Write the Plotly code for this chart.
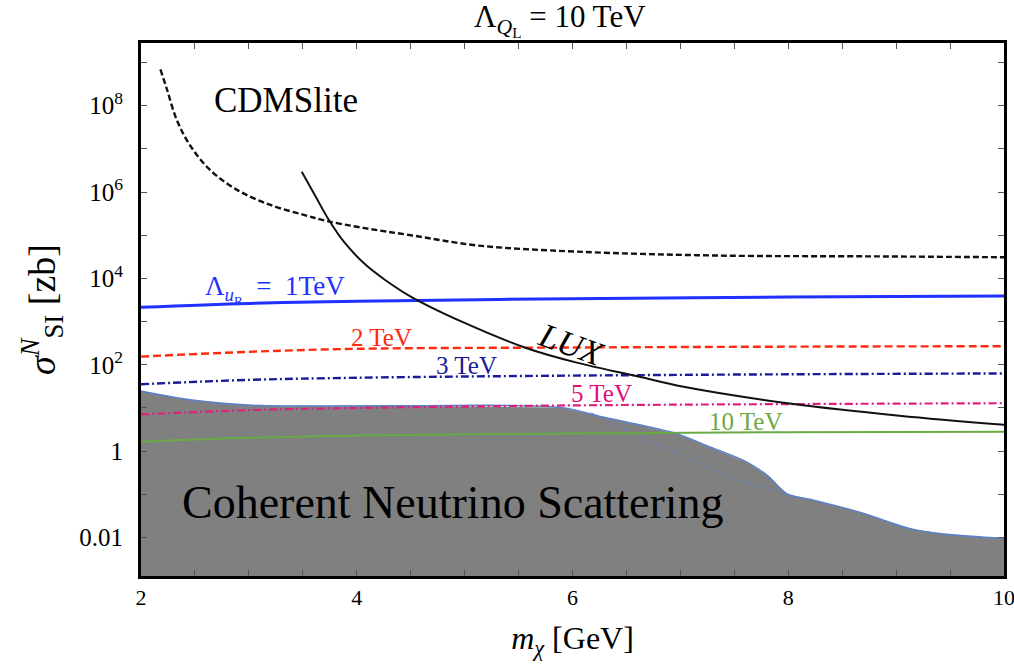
import plotly.graph_objects as go

# ---- data (mass in GeV, log10 cross-section in zb) ----
cdms_m = [2.18, 2.24, 2.33, 2.45, 2.64, 2.89, 3.20, 3.51, 3.72, 4.06, 4.50, 5.13, 6.04, 7.32, 8.78, 10.0]
cdms_logs = [8.84, 8.38, 7.68, 7.10, 6.51, 6.05, 5.70, 5.47, 5.33, 5.17, 5.00, 4.76, 4.62, 4.53, 4.51, 4.49]

lux_m = [3.49, 3.62, 3.74, 3.89, 4.08, 4.26, 4.50, 4.99, 5.57, 6.04, 6.59, 7.03, 8.05, 9.03, 10.0]
lux_logs = [6.47, 5.89, 5.36, 4.82, 4.32, 3.97, 3.58, 2.98, 2.39, 2.05, 1.74, 1.49, 1.09, 0.82, 0.61]

lam_m = [2, 3, 4, 6, 8, 10]
lam1_logs = [3.33, 3.42, 3.47, 3.53, 3.57, 3.59]
lam2_logs = [2.19, 2.30, 2.37, 2.40, 2.42, 2.43]
lam3_logs = [1.55, 1.65, 1.70, 1.75, 1.78, 1.80]
lam5_logs = [0.85, 0.95, 1.00, 1.06, 1.09, 1.11]
lam10_logs = [0.22, 0.31, 0.36, 0.41, 0.44, 0.45]

nu_m = [2.0, 2.42, 2.85, 3.17, 4.40, 5.89, 6.23, 6.60, 6.97, 7.28, 7.62, 7.81, 7.99, 8.21, 8.67, 9.14, 9.45, 10.0]
nu_logs = [1.39, 1.20, 1.09, 1.05, 1.05, 1.01, 0.82, 0.62, 0.40, 0.09, -0.26, -0.57, -0.99, -1.12, -1.42, -1.80, -1.92, -2.02]
nu2_m = [6.17, 6.82, 7.44, 7.99]
nu2_logs = [0.89, 0.12, -0.57, -0.99]
floor_log = -4.0

y_tick_logs = list(range(-3, 10))
y_tick_text = {-2: "0.01", 0: "1", 2: "10<sup>2</sup>", 4: "10<sup>4</sup>", 6: "10<sup>6</sup>", 8: "10<sup>8</sup>"}
x_tick_vals = [2 + 0.5 * i for i in range(17)]
x_tick_labels = {2: "2", 4: "4", 6: "6", 8: "8", 10: "10"}

FONT = "Liberation Serif, Times New Roman, serif"
p = lambda L: [10 ** v for v in L]

fig = go.Figure()

# neutrino floor fill
fig.add_trace(go.Scatter(
    x=nu_m + [nu_m[-1], nu_m[0]], y=p(nu_logs + [floor_log, floor_log]),
    fill="toself", fillcolor="#808080", line=dict(width=0), mode="lines", hoverinfo="skip"))
fig.add_trace(go.Scatter(x=nu_m, y=p(nu_logs), mode="lines",
                         line=dict(color="#5b82c6", width=1.6), line_shape="spline"))
fig.add_trace(go.Scatter(x=nu2_m, y=p(nu2_logs), mode="lines",
                         line=dict(color="#5b82c6", width=1, dash="5px,4px"), line_shape="spline"))

# Lambda lines
fig.add_trace(go.Scatter(x=lam_m, y=p(lam10_logs), mode="lines", line_shape="spline",
                         line=dict(color="#6aaa44", width=2)))
fig.add_trace(go.Scatter(x=lam_m, y=p(lam5_logs), mode="lines", line_shape="spline",
                         line=dict(color="#e0207f", width=2.2, dash="8px,3px,2px,3px")))
fig.add_trace(go.Scatter(x=lam_m, y=p(lam3_logs), mode="lines", line_shape="spline",
                         line=dict(color="#1a1a9a", width=2.4, dash="8px,3px,2px,3px")))
fig.add_trace(go.Scatter(x=lam_m, y=p(lam2_logs), mode="lines", line_shape="spline",
                         line=dict(color="#ff2a10", width=2.4, dash="8px,4px")))
fig.add_trace(go.Scatter(x=lam_m, y=p(lam1_logs), mode="lines", line_shape="spline",
                         line=dict(color="#1f30ff", width=3)))

# experiments
fig.add_trace(go.Scatter(x=cdms_m, y=p(cdms_logs), mode="lines", line_shape="spline",
                         line=dict(color="#111111", width=2.4, dash="6px,3px")))
fig.add_trace(go.Scatter(x=lux_m, y=p(lux_logs), mode="lines", line_shape="spline",
                         line=dict(color="#111111", width=2)))

def ann(x, ylog, text, size, color="black", angle=0):
    fig.add_annotation(x=x, y=ylog, xref="x", yref="y", text=text, showarrow=False,
                       font=dict(family=FONT, size=size, color=color), textangle=angle,
                       xanchor="center", yanchor="middle")

ann(3.34, 8.13, "CDMSlite", 35)
ann(4.89, -1.18, "Coherent Neutrino Scattering", 46)
ann(5.99, 2.47, "<i>LUX</i>", 34, angle=20)
ann(3.24, 3.74, "Λ<sub><i>u</i><sub>R</sub></sub>\u2002=\u20021TeV", 27, "#1f30ff")
ann(4.23, 2.63, "2 TeV", 25, "#ff2a10")
ann(5.02, 1.99, "3 TeV", 25, "#1a1a9a")
ann(6.27, 1.34, "5 TeV", 25, "#e0107a")
ann(7.60, 0.69, "10 TeV", 25, "#6aaa44")

fig.add_annotation(x=0.485, y=1.0, xref="paper", yref="paper", showarrow=False,
                   text="Λ<sub><i>Q</i><sub>L</sub></sub> = 10 TeV", yshift=0,
                   font=dict(family=FONT, size=31, color="black"), yanchor="bottom")

fig.update_layout(
    width=1014, height=672, showlegend=False,
    margin=dict(l=141, r=10, t=43, b=96),
    paper_bgcolor="white", plot_bgcolor="white",
    font=dict(family=FONT, color="black"),
    xaxis=dict(range=[2, 10], tickmode="array", tickvals=x_tick_vals, automargin=False,
               ticklabeloverflow="allow",
               ticktext=[x_tick_labels.get(v, "") if v == int(v) else "" for v in x_tick_vals],
               ticks="inside", ticklen=6, tickcolor="#555", mirror="allticks",
               showline=True, linewidth=3, linecolor="black", showgrid=False, zeroline=False,
               tickfont=dict(size=22, family=FONT),
               title=dict(text="<i>m</i><sub><i>χ</i></sub> [GeV]", font=dict(size=32, family=FONT), standoff=18)),
    yaxis=dict(type="log", range=[-2.89, 9.45], tickmode="array", automargin=False,
               ticklabeloverflow="allow", ticklabelstandoff=10,
               tickvals=[10 ** v for v in y_tick_logs],
               ticktext=[y_tick_text.get(v, "") for v in y_tick_logs],
               ticks="inside", ticklen=6, tickcolor="#555", mirror="allticks",
               showline=True, linewidth=3, linecolor="black", showgrid=False, zeroline=False,
               tickfont=dict(size=25, family=FONT),
               title=dict(text="<i>σ</i><sup><i>N</i></sup><sub>SI</sub> [zb]", font=dict(size=38, family=FONT), standoff=12)),
)

fig.write_html("out.html")
